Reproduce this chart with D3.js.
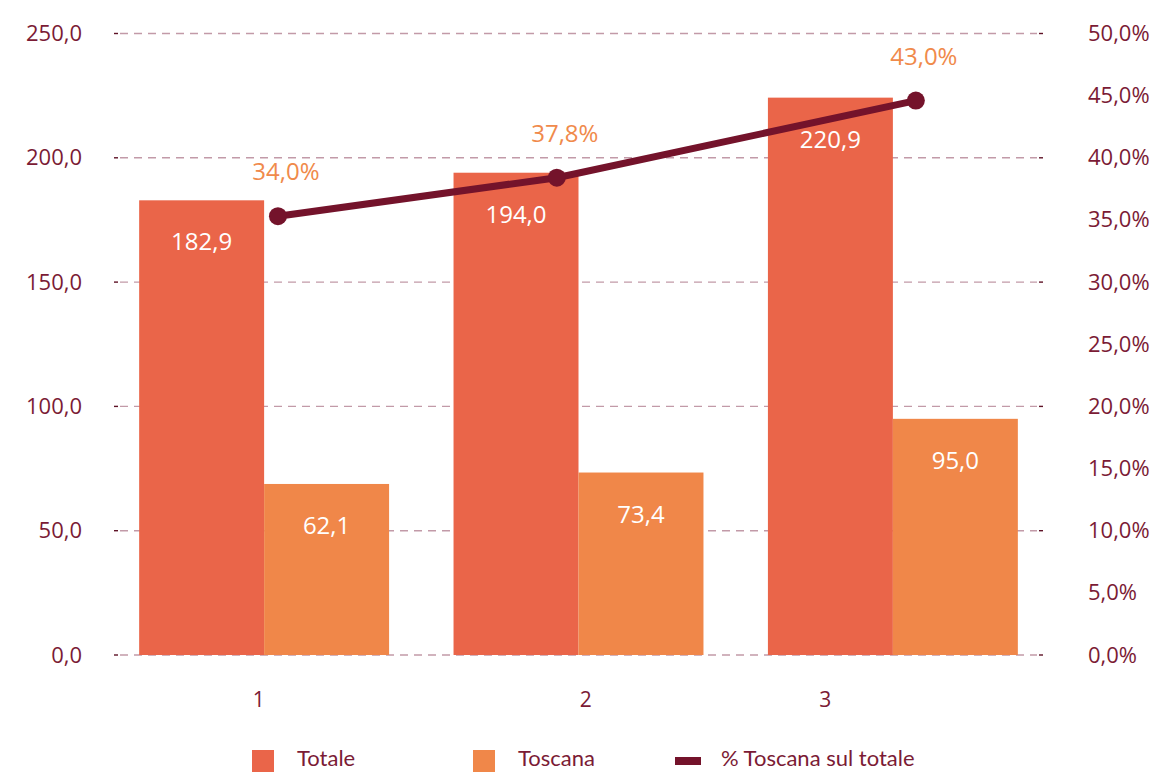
<!DOCTYPE html>
<html>
<head>
<meta charset="utf-8">
<script src="https://cdn.jsdelivr.net/npm/d3@7"></script>
<style>
  body { margin: 0; background: #fff; }
  text { font-family: "Open Sans", sans-serif; }
</style>
</head>
<body>
<div id="chart"></div>
<script>
// categories and series (bar heights / line points as drawn in the picture)
const categories = ['1', '2', '3'];
const series = ['Totale', 'Toscana'];
const totale = [182.9, 194.0, 224.2];
const toscana = [68.8, 73.4, 95.0];
const quota = [35.3, 38.4, 44.6];

// printed data labels
const totaleLabels = ['182,9', '194,0', '220,9'];
const toscanaLabels = ['62,1', '73,4', '95,0'];
const quotaLabels = ['34,0%', '37,8%', '43,0%'];

// secondary horizontal positions (category units) of line points and x tick labels
const linePos = [1.044, 1.931, 3.073];
const tickPos = [0.983, 2.023, 2.785];

const leftTicks = [0, 50, 100, 150, 200, 250];
const rightTicks = [0, 5, 10, 15, 20, 25, 30, 35, 40, 45, 50];

const colors = { Totale: '#ea6549', Toscana: '#f08749', line: '#74132b' };
const axisColor = '#7b1b35';

const width = 1158;
const height = 772;
const plot = { left: 114, right: 1043, top: 33.5, bottom: 655 };

const it = d3.formatLocale({ decimal: ',', thousands: '.', grouping: [3], currency: ['', '€'] });
const fmt1 = it.format('.1f');

const svg = d3.select('#chart')
  .append('svg')
    .attr('width', width)
    .attr('height', height);

const x0 = d3.scaleBand()
  .domain(categories)
  .range([plot.left, plot.right])
  .paddingInner(0.205)
  .paddingOuter(0.08);

const x1 = d3.scaleBand()
  .domain(series)
  .range([0, x0.bandwidth()]);

const y = d3.scaleLinear()
  .domain([0, 250])
  .range([plot.bottom, plot.top]);

const yR = d3.scaleLinear()
  .domain([0, 50])
  .range([plot.bottom, plot.top]);

const xPos = d3.scaleLinear()
  .domain([1, 3])
  .range([x0('1') + x0.bandwidth() / 2, x0('3') + x0.bandwidth() / 2]);

// gridlines
const grid = svg.append('g');
grid.selectAll('line.grid')
  .data(leftTicks)
  .join('line')
    .attr('class', 'grid')
    .attr('x1', plot.left + 6)
    .attr('x2', plot.right - 6)
    .attr('y1', d => y(d))
    .attr('y2', d => y(d))
    .attr('stroke', '#c29aa8')
    .attr('stroke-width', 1.4)
    .attr('stroke-dasharray', '8,6');

// small dark tick ends
[[plot.left, plot.left + 4], [plot.right - 4, plot.right]].forEach(([a, b]) => {
  grid.selectAll(null)
    .data(leftTicks)
    .join('line')
      .attr('x1', a)
      .attr('x2', b)
      .attr('y1', d => y(d))
      .attr('y2', d => y(d))
      .attr('stroke', '#5e1226')
      .attr('stroke-width', 1.4);
});

// axes
const axisLeft = d3.axisLeft(y)
  .tickValues(leftTicks)
  .tickSize(0)
  .tickPadding(32)
  .tickFormat(fmt1);

const axisRight = d3.axisRight(yR)
  .tickValues(rightTicks)
  .tickSize(0)
  .tickPadding(45)
  .tickFormat(d => fmt1(d) + '%');

const gLeft = svg.append('g')
  .attr('transform', `translate(${plot.left},0)`)
  .call(axisLeft);

const gRight = svg.append('g')
  .attr('transform', `translate(${plot.right},0)`)
  .call(axisRight);

[gLeft, gRight].forEach(g => {
  g.select('.domain').remove();
  g.selectAll('text')
    .attr('fill', axisColor)
    .style('font-family', '"Open Sans", sans-serif')
    .style('font-size', '22px');
});

// x tick labels
svg.append('g')
  .selectAll('text')
  .data(categories)
  .join('text')
    .attr('x', (d, i) => xPos(tickPos[i]))
    .attr('y', 707)
    .attr('text-anchor', 'middle')
    .attr('fill', axisColor)
    .style('font-size', '21px')
    .text(d => d);

// bars
const rows = categories.map((c, i) => ({
  cat: c,
  bars: [
    { key: 'Totale', value: totale[i], label: totaleLabels[i] },
    { key: 'Toscana', value: toscana[i], label: toscanaLabels[i] }
  ]
}));

const groups = svg.append('g')
  .selectAll('g')
  .data(rows)
  .join('g')
    .attr('transform', d => `translate(${x0(d.cat)},0)`);

groups.selectAll('rect')
  .data(d => d.bars)
  .join('rect')
    .attr('x', d => x1(d.key))
    .attr('y', d => y(d.value))
    .attr('width', x1.bandwidth())
    .attr('height', d => y(0) - y(d.value))
    .attr('fill', d => colors[d.key]);

groups.selectAll('text')
  .data(d => d.bars)
  .join('text')
    .attr('x', d => x1(d.key) + x1.bandwidth() / 2)
    .attr('y', d => y(d.value) + 50)
    .attr('text-anchor', 'middle')
    .attr('fill', '#fff')
    .style('font-size', '24px')
    .text(d => d.label);

// line
const pts = quota.map((v, i) => ({ x: xPos(linePos[i]), y: yR(v), label: quotaLabels[i] }));

svg.append('path')
  .datum(pts)
  .attr('fill', 'none')
  .attr('stroke', colors.line)
  .attr('stroke-width', 7)
  .attr('d', d3.line().x(d => d.x).y(d => d.y));

svg.append('g')
  .selectAll('circle')
  .data(pts)
  .join('circle')
    .attr('cx', d => d.x)
    .attr('cy', d => d.y)
    .attr('r', 9)
    .attr('fill', colors.line);

svg.append('g')
  .selectAll('text')
  .data(pts)
  .join('text')
    .attr('x', d => d.x + 8)
    .attr('y', d => d.y - 36)
    .attr('text-anchor', 'middle')
    .attr('fill', '#f08a4b')
    .style('font-size', '24px')
    .text(d => d.label);

// legend
const legendItems = [
  { name: 'Totale', type: 'rect', color: colors.Totale, x: 252 },
  { name: 'Toscana', type: 'rect', color: colors.Toscana, x: 473 },
  { name: '% Toscana sul totale', type: 'line', color: colors.line, x: 675 }
];

const legend = svg.append('g');
legendItems.forEach(it => {
  if (it.type === 'rect') {
    legend.append('rect')
      .attr('x', it.x).attr('y', 750)
      .attr('width', 22).attr('height', 22)
      .attr('fill', it.color);
  } else {
    legend.append('rect')
      .attr('x', it.x).attr('y', 757)
      .attr('width', 26).attr('height', 8)
      .attr('fill', it.color);
  }
  legend.append('text')
    .attr('x', it.x + (it.type === 'rect' ? 45 : 46))
    .attr('y', 766)
    .attr('fill', axisColor)
    .style('font-family', 'Lato, sans-serif')
    .style('font-size', '22px')
    .text(it.name);
});
</script>
</body>
</html>
